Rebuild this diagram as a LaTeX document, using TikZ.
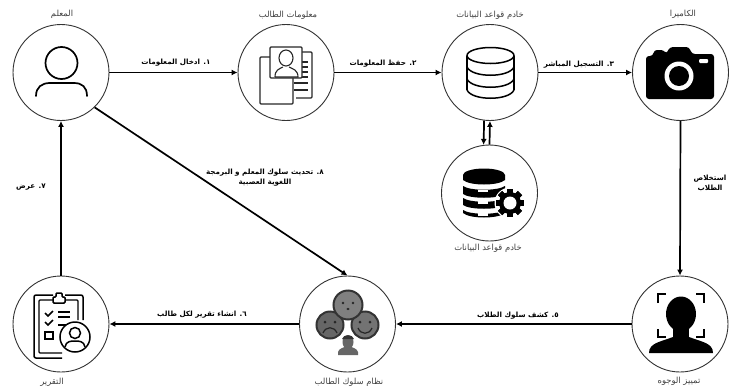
\documentclass[tikz,border=0pt]{standalone}
\usepackage{fontspec}
\usetikzlibrary{arrows.meta,calc}
\TeXXeTstate=1
\newfontfamily\arabicfont[Script=Arabic]{DejaVu Sans}
\newcommand{\rtl}[1]{\beginR #1\endR}
\tikzset{
  stage/.style={circle,draw=black!80,line width=0.9pt,minimum size=96pt,inner sep=0pt},
  flow/.style={line width=1.7pt,black,-{Latex[length=6pt,width=6pt]}},
  caption/.style={font=\arabicfont\fontsize{8.4}{10}\selectfont,text=black!75,inner sep=0pt},
  steplabel/.style={font=\arabicfont\bfseries\fontsize{7.2}{10}\selectfont,align=center,inner sep=0pt},
  icon/.style={line width=1.5pt,black},
  thin icon/.style={line width=1.1pt,black!85}
}
\begin{document}
\begin{tikzpicture}[x=1pt,y=-1pt]
\useasboundingbox (0,0) rectangle (732,389);
% stages
\node[stage] (t) at (61,72.5) {};
\node[stage] (i) at (286,72.5) {};
\node[stage] (d) at (490,72.5) {};
\node[stage] (c) at (680.5,72.5) {};
\node[stage] (s) at (489.5,193) {};
\node[stage] (f) at (680,324) {};
\node[stage] (b) at (347.5,324) {};
\node[stage] (r) at (61,324) {};
% connectors
\draw[flow] (t.east) -- (i.west);
\draw[flow] (i.east) -- (d.west);
\draw[flow] (d.east) -- (c.west);
\draw[flow] (c.south) -- (f.north);
\draw[flow] (f.west) -- (b.east);
\draw[flow] (b.west) -- (r.east);
\draw[flow] (r.north) -- (t.south);
\draw[flow] (t.-46) -- (b.north);
\draw[flow] (d.-97) -- (s.97);
\draw[flow] (s.90) -- (d.-90);
% captions
\node[caption] (ct) at (62,14) {\rtl{المعلم}};
\node[caption] (ci) at (288,15) {\rtl{معلومات الطالب}};
\node[caption] (cd) at (490,15) {\rtl{خادم قواعد البيانات}};
\node[caption] (cc) at (683,14) {\rtl{الكاميرا}};
\node[caption] (cs) at (488,248) {\rtl{خادم قواعد البيانات}};
\node[caption] (cr) at (52,382) {\rtl{التقرير}};
\node[caption] (cb) at (349,382) {\rtl{نظام سلوك الطالب}};
\node[caption] (cf) at (679,381) {\rtl{تمييز الوجوه}};
% step labels
\node[steplabel] (l1) at (176,63) {\rtl{١. ادخال المعلومات}};
\node[steplabel] (l2) at (383,64) {\rtl{٢. حفظ المعلومات}};
\node[steplabel] (l3) at (579,65) {\rtl{٣. التسجيل المباشر}};
\node[steplabel] (l4) at (710,183) {\rtl{استخلاص}\\\rtl{الطلاب}};
\node[steplabel] (l5) at (518,316) {\rtl{٥. كشف سلوك الطلاب}};
\node[steplabel] (l6) at (202,315) {\rtl{٦. انشاء تقرير لكل طالب}};
\node[steplabel] (l7) at (31,187) {\rtl{٧. عرض}};
\node[steplabel] (l8) at (265,178) {\rtl{٨. تحديث سلوك المعلم و البرمجة}\\\rtl{اللغوية العصبية}};
% teacher icon
\draw[icon,line width=1.7pt] (61.5,63) circle[radius=16pt];
\draw[icon,line width=1.7pt,line cap=round] (36,96) .. controls (36,87) and (42,83) .. (50,83) -- (74,83) .. controls (82,83) and (87,87) .. (87,96);
% student info icon
\draw[thin icon,rounded corners=1pt] (270,57) -- (260,57) -- (260,104) -- (293,104) -- (293,78);
\draw[thin icon,rounded corners=1pt] (302,52) -- (312,52) -- (312,98) -- (296,98);
\foreach \yy in {62,67,72,77} \draw[thin icon] (302,\yy) -- (308,\yy);
\foreach \yy in {83,90} \draw[thin icon] (294,\yy) -- (308,\yy);
\draw[thin icon,fill=white,rounded corners=1pt] (270,47) rectangle (302,78);
\draw[thin icon] (286,58) ellipse[x radius=7pt,y radius=8pt];
\draw[thin icon] (275,77) .. controls (275,70) and (279,69) .. (283,67) (289,67) .. controls (293,69) and (298,70) .. (298,77) -- (275,77);
% database icon
\draw[icon] (490.5,55.5) ellipse[x radius=23.5pt,y radius=8pt];
\draw[icon] (467,55.5) -- (467,90) (514,55.5) -- (514,90);
\draw[icon] (467,90) .. controls (472,101) and (509,101) .. (514,90);
\draw[icon] (467,67) .. controls (472,78) and (509,78) .. (514,67);
\draw[icon] (467,79) .. controls (472,90) and (509,90) .. (514,79);
% camera icon
\fill[black,rounded corners=3pt] (646,56) -- (653,56) -- (654,50) -- (664,50) -- (666,54) -- (670,47) -- (689,47) -- (692,54) -- (714,54) -- (714,99) -- (646,99) -- cycle;
\fill[white] (679,76) circle[radius=14.5pt];
\fill[black] (679,76) circle[radius=10pt];
\fill[white,rounded corners=1pt] (699,59) rectangle (708,63);
% server with gear icon
\fill[black] (484,175) ellipse[x radius=21pt,y radius=6.5pt];
\fill[black] (463,186) .. controls (470,191) and (498,191) .. (505,186) -- (505,194) .. controls (498,199) and (470,199) .. (463,194) -- cycle;
\fill[black] (463,198) .. controls (470,203) and (498,203) .. (505,198) -- (505,205) .. controls (498,210) and (470,210) .. (463,205) -- cycle;
\fill[black] (463,210) .. controls (470,215) and (498,215) .. (505,210) -- (505,213) .. controls (498,219) and (470,219) .. (463,213) -- cycle;
\fill[black] (463,180) .. controls (470,186) and (498,186) .. (505,180) -- (505,175) -- (463,175) -- cycle;
\foreach \yy in {189.5,201,213} \fill[white] (478,\yy) rectangle (488,\yy+2.8);
\fill[white] (510,203) circle[radius=15.5pt];
\foreach \aa in {0,45,...,315}
  \fill[black,shift={(510,203)},rotate=\aa] (-3pt,-14pt) rectangle (3pt,14pt);
\fill[black] (510,203) circle[radius=11pt];
\fill[white] (510,203) circle[radius=6.5pt];
% face recognition icon
\fill[black] (681,314) ellipse[x radius=15pt,y radius=17.5pt];
\fill[black] (673,325) rectangle (689,340);
\fill[black] (649,353) .. controls (649,343) and (660,342) .. (673,337) -- (689,337) .. controls (702,342) and (713,343) .. (713,353) -- cycle;
\draw[black,line width=1.9pt] (658,303) -- (658,294) -- (666,294);
\draw[black,line width=1.9pt] (696,294) -- (704,294) -- (704,303);
\draw[black,line width=1.9pt] (658,329) -- (658,337) -- (666,337);
\draw[black,line width=1.9pt] (696,337) -- (704,337) -- (704,329);
% behaviour icon
\begin{scope}[line width=2pt,draw=black!80,fill=black!55]
\draw[fill=black!60] (330,325) circle[radius=13.5pt];
\draw[fill=black!55] (365,325) circle[radius=13.5pt];
\draw[fill=black!50] (348,305) circle[radius=14.5pt];
\end{scope}
\fill[black!85] (343,303) circle[radius=1.3pt] (353,303) circle[radius=1.3pt] (348,309) ellipse[x radius=1.6pt,y radius=1.2pt];
\fill[black!85] (325,322) circle[radius=1.5pt] (335,322) circle[radius=1.5pt];
\fill[black!85] (360,322) circle[radius=1.5pt] (370,322) circle[radius=1.5pt];
\draw[black!85,line width=1.2pt] (323,333) .. controls (326,326) and (334,326) .. (337,333);
\draw[black!85,line width=1.2pt] (358,328) .. controls (361,335) and (369,335) .. (372,328);
\fill[black!60] (348,342) ellipse[x radius=5.5pt,y radius=7pt];
\fill[black!60] (338,355) -- (338,352) .. controls (339,348) and (344,348) .. (346,346) -- (350,346) .. controls (352,348) and (357,348) .. (358,352) -- (358,355) -- cycle;
\fill[black!80] (342,339) .. controls (343,334) and (353,334) .. (354,339) -- cycle;
% report icon
\draw[icon,rounded corners=2pt] (53,295) -- (34,295) -- (34,358) -- (62,358);
\draw[icon,rounded corners=2pt] (65,295) -- (83,295) -- (83,320);
\draw[icon,line width=1.1pt,rounded corners=1pt] (53,300) -- (39,300) -- (39,353) -- (62,353);
\draw[icon,line width=1.1pt,rounded corners=1pt] (65,300) -- (78,300) -- (78,320);
\draw[icon,fill=white,rounded corners=1pt] (53,297) -- (53,303) -- (65,303) -- (65,297) -- (62,297) -- (62,293) -- (56,293) -- (56,297) -- cycle;
\draw[icon] (45,313) -- (48,316) -- (53,311);
\draw[icon] (45,322) -- (48,325) -- (53,320);
\draw[icon] (58,312) -- (70,312) (58,317) -- (70,317) (58,325) -- (66,325);
\draw[icon] (45,332) rectangle (53,339);
\draw[icon,fill=white] (75,337) circle[radius=15pt];
\draw[icon] (75,333) circle[radius=5.5pt];
\draw[icon] (65,347) .. controls (66,341) and (71,341) .. (75,341) .. controls (79,341) and (84,341) .. (85,347);
\end{tikzpicture}
\end{document}
